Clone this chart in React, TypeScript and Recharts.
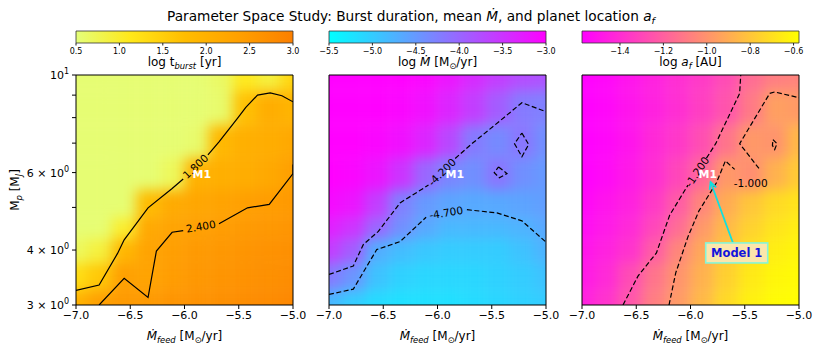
import React from 'react'
import { ComposedChart, XAxis, YAxis, Scatter, ReferenceArea } from 'recharts'

// simulation grid: log Mdot_feed (x) and planet mass in M_J (y)
const feedGrid = [-7.0, -6.78, -6.56, -6.33, -6.11, -5.89, -5.67, -5.44, -5.22, -5.0]
const massGrid = [3, 3.5, 4, 4.5, 5, 6, 7, 8.5, 10]

// rows go with massGrid (bottom to top), columns with feedGrid
const logTburst = [
  [2.0, 2.4, 2.5, 2.5, 2.6, 2.65, 2.7, 2.75, 2.8, 2.85],
  [1.3, 1.6, 2.4, 2.3, 2.45, 2.55, 2.6, 2.65, 2.7, 2.75],
  [0.7, 0.9, 1.9, 2.3, 2.42, 2.5, 2.55, 2.6, 2.65, 2.7],
  [0.55, 0.55, 1.0, 2.2, 2.3, 2.4, 2.45, 2.5, 2.55, 2.6],
  [0.55, 0.55, 0.55, 1.8, 2.15, 2.25, 2.3, 2.4, 2.45, 2.5],
  [0.55, 0.55, 0.55, 0.55, 0.7, 2.0, 2.05, 2.1, 2.2, 2.4],
  [0.55, 0.55, 0.55, 0.55, 0.55, 0.6, 1.85, 2.05, 2.1, 2.2],
  [0.55, 0.55, 0.55, 0.55, 0.55, 0.55, 0.6, 1.7, 2.1, 1.95],
  [0.55, 0.55, 0.55, 0.55, 0.55, 0.55, 0.65, 1.1, 0.9, 1.4],
]
const logMdot = [
  [-4.8, -5.0, -5.15, -5.2, -5.2, -5.2, -5.15, -5.1, -5.05, -5.0],
  [-4.2, -4.45, -4.9, -5.05, -5.1, -5.1, -5.1, -5.05, -5.0, -4.9],
  [-3.6, -3.9, -4.7, -4.85, -4.95, -5.0, -5.0, -5.0, -4.9, -4.75],
  [-3.3, -3.5, -4.0, -4.4, -4.65, -4.8, -4.8, -4.8, -4.75, -4.65],
  [-3.1, -3.2, -3.6, -4.25, -4.5, -4.62, -4.66, -4.65, -4.6, -4.55],
  [-3.0, -3.05, -3.2, -3.5, -4.0, -4.3, -4.4, -4.15, -4.4, -4.5],
  [-3.0, -3.0, -3.05, -3.15, -3.35, -3.7, -4.2, -4.35, -4.15, -4.4],
  [-3.0, -3.0, -3.0, -3.05, -3.15, -3.35, -3.6, -3.9, -4.2, -4.25],
  [-3.0, -3.0, -3.0, -3.0, -3.05, -3.2, -3.4, -3.6, -3.75, -3.8],
]
const logAf = [
  [-1.45, -1.38, -1.24, -1.08, -0.97, -0.85, -0.72, -0.63, -0.59, -0.58],
  [-1.48, -1.42, -1.28, -1.12, -1.0, -0.88, -0.76, -0.66, -0.61, -0.59],
  [-1.5, -1.45, -1.38, -1.22, -1.05, -0.92, -0.8, -0.7, -0.64, -0.61],
  [-1.53, -1.48, -1.42, -1.3, -1.15, -0.98, -0.85, -0.75, -0.68, -0.64],
  [-1.55, -1.5, -1.45, -1.35, -1.22, -1.05, -0.9, -0.8, -0.72, -0.68],
  [-1.575, -1.54, -1.48, -1.4, -1.3, -1.17, -0.98, -1.02, -0.88, -0.78],
  [-1.575, -1.55, -1.5, -1.42, -1.36, -1.27, -1.12, -0.98, -1.0, -0.85],
  [-1.575, -1.55, -1.5, -1.45, -1.4, -1.33, -1.25, -1.1, -0.95, -0.97],
  [-1.575, -1.55, -1.5, -1.45, -1.4, -1.35, -1.28, -1.15, -1.08, -1.06],
]

const xTicks = [-7, -6.5, -6, -5.5, -5]
const massTicks = [3, 4, 5, 6, 7, 8, 9, 10]
const tburstTicks = [0.5, 1.0, 1.5, 2.0, 2.5, 3.0]
const mdotTicks = [-5.5, -5.0, -4.5, -4.0, -3.5, -3.0]
const afTicks = [-1.4, -1.2, -1.0, -0.8, -0.6]

// contour paths as [log Mdot_feed, Mp], split where the inline label sits
const tb18 = [
  [[-7.0, 3.24], [-6.787, 3.33], [-6.617, 3.93], [-6.556, 4.22], [-6.336, 4.99], [-6.114, 5.52], [-6.012, 5.8]],
  [[-5.784, 6.58], [-5.682, 7.05], [-5.512, 7.97], [-5.435, 8.44], [-5.327, 9.0], [-5.21, 9.11], [-5.102, 8.97], [-5.0, 8.69]],
]
const tb24 = [
  [[-6.787, 3.0], [-6.556, 3.45], [-6.336, 3.12], [-6.259, 3.98], [-6.114, 4.39], [-6.012, 4.43]],
  [[-5.682, 4.59], [-5.419, 4.99], [-5.219, 5.08], [-5.0, 5.97], [-5.0, 6.26]],
]
const md42 = [
  [[-7.0, 3.52], [-6.776, 3.68], [-6.683, 4.12], [-6.545, 4.41], [-6.345, 5.12], [-6.083, 5.62]],
  [[-5.837, 6.46], [-5.683, 6.98], [-5.437, 7.82], [-5.222, 8.65], [-5.0, 8.25]],
  [[-5.222, 7.38], [-5.16, 6.95], [-5.222, 6.52], [-5.29, 6.98], [-5.222, 7.38]],
  [[-5.437, 6.18], [-5.36, 5.97], [-5.43, 5.84], [-5.477, 6.0], [-5.437, 6.18]],
]
const md47 = [
  [[-7.0, 3.17], [-6.776, 3.26], [-6.56, 4.01], [-6.345, 4.18], [-6.105, 4.75]],
  [[-5.729, 4.94], [-5.452, 4.86], [-5.222, 4.66], [-5.0, 4.17]],
]
const af12 = [
  [[-6.622, 3.0], [-6.484, 3.49], [-6.314, 3.94], [-6.192, 4.8], [-6.023, 5.62]],
  [[-5.853, 6.47], [-5.768, 6.98], [-5.547, 9.08], [-5.537, 10.0]],
]
const af10 = [
  [[-6.198, 3.0], [-6.136, 3.55], [-6.023, 4.29], [-5.922, 4.91], [-5.761, 5.69], [-5.678, 6.38], [-5.593, 6.1]],
  [[-5.369, 6.13], [-5.547, 6.98], [-5.27, 9.08], [-5.224, 9.15], [-5.0, 8.88]],
  [[-5.24, 7.13], [-5.203, 6.98], [-5.224, 6.77], [-5.245, 6.92], [-5.24, 7.13]],
]

const model1 = { x: -5.84, y: 5.94 }
const model1Box = { x: -5.574, y: 3.94 }
const model1Arrow = [{ x: -5.61, y: 4.16 }, { x: -5.815, y: 5.71, head: true }]

type Stop = [number, string]
const wistia: Stop[] = [[0, '#e4ff7a'], [0.25, '#ffe81a'], [0.5, '#ffbd00'], [0.75, '#ffa000'], [1, '#fc7f00']]
const cool: Stop[] = [[0, '#00ffff'], [1, '#ff00ff']]
const spring: Stop[] = [[0, '#ff00ff'], [1, '#ffff00']]

const PW = 217, PH = 230, PT = 75, PAD = 30
const FONT = '"DejaVu Sans", sans-serif'

function hexRgb(h: string) {
  const n = parseInt(h.slice(1), 16)
  return [(n >> 16) & 255, (n >> 8) & 255, n & 255]
}

function cmapColor(stops: Stop[], t: number) {
  const u = Math.min(1, Math.max(0, t))
  for (let i = 1; i < stops.length; i++) {
    if (u <= stops[i][0]) {
      const [t0, c0] = stops[i - 1]
      const [t1, c1] = stops[i]
      const f = (u - t0) / (t1 - t0)
      const a = hexRgb(c0), b = hexRgb(c1)
      return `rgb(${a.map((v, k) => Math.round(v + (b[k] - v) * f)).join(',')})`
    }
  }
  return stops[stops.length - 1][1]
}

const minus = (v: number, d = 1) => (v < 0 ? '\u2212' : '') + Math.abs(v).toFixed(d)

const Sub = ({ children }: { children: React.ReactNode }) => (
  <span style={{ fontSize: '0.7em', verticalAlign: '-0.3em', lineHeight: 0 }}>{children}</span>
)

const panels = [
  {
    left: 76, grid: logTburst, cmap: wistia, vmin: 0.5, vmax: 3.0, cbTicks: tburstTicks, grad: 'gWistia',
    fmt: (v: number) => v.toFixed(1), dashed: false,
    contours: [tb18, tb24],
    labels: [
      { x: -5.9, y: 6.2, text: '1.800', angle: -43 },
      { x: -5.85, y: 4.53, text: '2.400', angle: -10 },
    ],
    cbLabel: <>log t<Sub><i>burst</i></Sub> [yr]</>,
  },
  {
    left: 329, grid: logMdot, cmap: cool, vmin: -5.5, vmax: -3.0, cbTicks: mdotTicks, grad: 'gCool',
    fmt: (v: number) => minus(v), dashed: true,
    contours: [md42, md47],
    labels: [
      { x: -5.96, y: 6.02, text: '-4.200', angle: -45 },
      { x: -5.92, y: 4.87, text: '-4.700', angle: -9 },
    ],
    cbLabel: <>log <i>Ṁ</i> [M<Sub>⊙</Sub>/yr]</>,
  },
  {
    left: 582, grid: logAf, cmap: spring, vmin: -1.575, vmax: -0.575, cbTicks: afTicks, grad: 'gSpring',
    fmt: (v: number) => minus(v), dashed: true,
    contours: [af12, af10],
    labels: [
      { x: -5.94, y: 6.03, text: '-1.200', angle: -56 },
      { x: -5.445, y: 5.68, text: '-1.000', angle: 0 },
    ],
    cbLabel: <>log <i>a</i><Sub><i>f</i></Sub> [AU]</>,
  },
]

const massLabels: Record<number, [string, string]> = {
  3: ['3 × 10', '0'], 4: ['4 × 10', '0'], 6: ['6 × 10', '0'], 10: ['10', '1'],
}

function MassTick(props: any) {
  const { x, y, payload } = props
  const lab = massLabels[payload.value]
  if (!lab) return <g />
  return (
    <text x={x} y={y} dy={4} textAnchor="end" fontSize={11} fill="#000" fontFamily={FONT}>
      <tspan>{lab[0]}</tspan>
      <tspan dy={-5} fontSize={8}>{lab[1]}</tspan>
    </text>
  )
}

const noDot = () => <g />

const labelShape = (props: any) => {
  const { cx, cy, payload } = props
  return (
    <text x={cx} y={cy} transform={`rotate(${payload.angle} ${cx} ${cy})`} textAnchor="middle"
      dominantBaseline="central" fontSize={10.5} fill="#000" fontFamily={FONT}>
      {payload.text}
    </text>
  )
}

const m1Shape = (props: any) => (
  <text x={props.cx} y={props.cy} textAnchor="middle" dominantBaseline="central" fontSize={11}
    fontWeight="bold" fill="#fff" fontFamily={FONT}>M1</text>
)

const boxShape = (props: any) => {
  const { cx, cy } = props
  return (
    <g>
      <rect x={cx - 31} y={cy - 10} width={62} height={20} fill="#fce6ab" stroke="#86f5d6" strokeWidth={1.6} />
      <text x={cx} y={cy} textAnchor="middle" dominantBaseline="central" fontSize={11.5} fontWeight="bold"
        fill="#1414dc" fontFamily={FONT}>Model 1</text>
    </g>
  )
}

const arrowShape = (props: any) => {
  const { cx, cy, payload } = props
  if (!payload.head) return <g />
  return (
    <path d="M -7 -3.5 L 0 0 L -7 3.5" transform={`translate(${cx} ${cy}) rotate(-110)`}
      fill="none" stroke="#10e0e0" strokeWidth={1.8} />
  )
}

function Heatmap({ p }: { p: typeof panels[number] }) {
  const cells: React.ReactNode[] = []
  massGrid.forEach((m, i) => {
    feedGrid.forEach((x, j) => {
      const x1 = j === 0 ? -7.6 : (feedGrid[j - 1] + x) / 2
      const x2 = j === feedGrid.length - 1 ? -4.4 : (x + feedGrid[j + 1]) / 2
      const y1 = i === 0 ? 2.2 : Math.sqrt(massGrid[i - 1] * m)
      const y2 = i === massGrid.length - 1 ? 14 : Math.sqrt(m * massGrid[i + 1])
      const v = p.grid[i][j]
      cells.push(
        <ReferenceArea key={`${i}-${j}`} x1={x1} x2={x2} y1={y1} y2={y2} ifOverflow="visible"
          fill={cmapColor(p.cmap, (v - p.vmin) / (p.vmax - p.vmin))} fillOpacity={1} stroke="none" />
      )
    })
  })
  return (
    <div style={{ position: 'absolute', left: p.left, top: PT, width: PW, height: PH, overflow: 'hidden' }}>
      <div style={{ position: 'absolute', left: -PAD, top: -PAD, filter: 'blur(6.5px)' }}>
        <ComposedChart width={PW + 2 * PAD} height={PH + 2 * PAD} margin={{ top: PAD, right: PAD, bottom: PAD, left: PAD }}>
          <XAxis type="number" dataKey="x" domain={[-7, -5]} hide allowDataOverflow />
          <YAxis type="number" dataKey="y" scale="log" domain={[3, 10]} hide allowDataOverflow />
          {cells}
        </ComposedChart>
      </div>
    </div>
  )
}

function ColorBar({ p }: { p: typeof panels[number] }) {
  return (
    <>
      <div style={{ position: 'absolute', left: p.left - 20, top: 26 }}>
        <ComposedChart width={PW + 40} height={32} margin={{ top: 5, right: 20, bottom: 0, left: 20 }}>
          <XAxis type="number" dataKey="x" domain={[p.vmin, p.vmax]} ticks={p.cbTicks} interval={0} allowDataOverflow
            tickFormatter={p.fmt} axisLine={false} stroke="#222" tickSize={2.5} tickMargin={2.5} height={15}
            tick={{ fontSize: 8, fill: '#000', fontFamily: FONT }} />
          <YAxis type="number" dataKey="y" domain={[0, 1]} hide allowDataOverflow />
          <ReferenceArea x1={p.vmin} x2={p.vmax} y1={0} y2={1} fill={`url(#${p.grad})`} fillOpacity={1}
            stroke="#333" strokeWidth={0.8} ifOverflow="visible" />
        </ComposedChart>
      </div>
      <div style={{ position: 'absolute', left: p.left, width: PW, top: 55, textAlign: 'center', fontSize: 12, lineHeight: '14px', whiteSpace: 'nowrap' }}>
        {p.cbLabel}
      </div>
    </>
  )
}

function Panel({ p, first }: { p: typeof panels[number]; first: boolean }) {
  const line = { stroke: '#000', strokeWidth: 1.2, strokeDasharray: p.dashed ? '5 2.5' : undefined }
  return (
    <>
      <div style={{ position: 'absolute', left: p.left - 75, top: PT - 10 }}>
        <ComposedChart width={75 + PW + 15} height={288} margin={{ top: 10, right: 15, bottom: 18, left: 0 }}>
          <XAxis type="number" dataKey="x" domain={[-7, -5]} ticks={xTicks} interval={0} allowDataOverflow
            tickFormatter={(v: number) => minus(v)} axisLine={false} stroke="#000" tickSize={4} tickMargin={2}
            height={30} tick={{ fontSize: 11, fill: '#000', fontFamily: FONT }} />
          <YAxis type="number" dataKey="y" scale="log" domain={[3, 10]} ticks={massTicks} interval={0}
            allowDataOverflow axisLine={false} stroke="#000" tickSize={4} tickMargin={3} width={75}
            tick={first ? <MassTick /> : false} />
          {p.contours.map((segs, ci) =>
            segs.map((seg, si) => (
              <Scatter key={`c${ci}-${si}`} data={seg.map(([x, y]) => ({ x, y }))} line={line} lineType="joint"
                shape={noDot} fill="#000" isAnimationActive={false} />
            ))
          )}
          <Scatter data={p.labels} shape={labelShape} isAnimationActive={false} />
          <Scatter data={[model1]} shape={m1Shape} isAnimationActive={false} />
          {p.left === 582 && (
            <Scatter data={model1Arrow} line={{ stroke: '#10e0e0', strokeWidth: 1.8 }} lineType="joint"
              shape={arrowShape} fill="#10e0e0" isAnimationActive={false} />
          )}
          {p.left === 582 && <Scatter data={[model1Box]} shape={boxShape} isAnimationActive={false} />}
          <ReferenceArea x1={-7} x2={-5} y1={3} y2={10} fill="none" stroke="#000" strokeWidth={1} />
        </ComposedChart>
      </div>
      <div style={{ position: 'absolute', left: p.left, width: PW, top: 329, textAlign: 'center', fontSize: 12, lineHeight: '14px', whiteSpace: 'nowrap' }}>
        <i>Ṁ</i><Sub><i>feed</i></Sub> [M<Sub>⊙</Sub>/yr]
      </div>
    </>
  )
}

export default function App() {
  const grads: [string, Stop[]][] = [['gWistia', wistia], ['gCool', cool], ['gSpring', spring]]
  return (
    <div style={{ position: 'absolute', left: 0, top: 0, width: 822, height: 353, background: '#fff', overflow: 'hidden', fontFamily: FONT, color: '#000' }}>
      <svg width={0} height={0} style={{ position: 'absolute' }}>
        <defs>
          {grads.map(([id, stops]) => (
            <linearGradient key={id} id={id} x1="0" y1="0" x2="1" y2="0">
              {stops.map(([o, c]) => <stop key={o} offset={o} stopColor={c} />)}
            </linearGradient>
          ))}
        </defs>
      </svg>
      <div style={{ position: 'absolute', left: 0, width: 822, top: 8, textAlign: 'center', fontSize: 13.7, lineHeight: '17px', whiteSpace: 'nowrap' }}>
        Parameter Space Study: Burst duration, mean <i>Ṁ</i>, and planet location <i>a</i><Sub><i>f</i></Sub>
      </div>
      {panels.map((p) => <Heatmap key={`h${p.left}`} p={p} />)}
      {panels.map((p, i) => <Panel key={`p${p.left}`} p={p} first={i === 0} />)}
      {panels.map((p) => <ColorBar key={`b${p.left}`} p={p} />)}
      <div style={{ position: 'absolute', left: 15, top: 190, transform: 'translate(-50%, -50%) rotate(-90deg)', fontSize: 12, lineHeight: '14px', whiteSpace: 'nowrap' }}>
        M<Sub><i>p</i></Sub> [M<Sub><i>J</i></Sub>]
      </div>
    </div>
  )
}
